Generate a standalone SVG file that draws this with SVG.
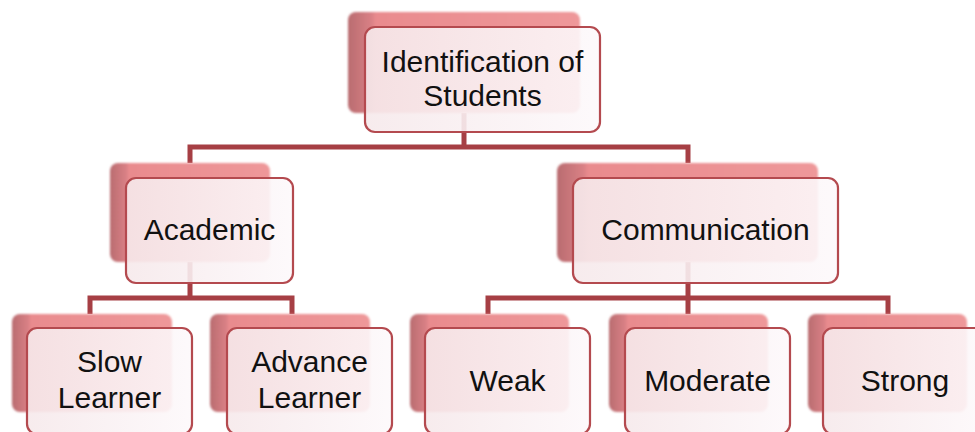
<svg xmlns="http://www.w3.org/2000/svg" width="975" height="432" viewBox="0 0 975 432">
<defs>
<linearGradient id="backG" x1="0" y1="0" x2="1" y2="0">
<stop offset="0" stop-color="#b96c70"/>
<stop offset="0.1" stop-color="#d98085"/>
<stop offset="0.12" stop-color="#e98b8e"/>
<stop offset="1" stop-color="#ee989a"/>
</linearGradient>
<linearGradient id="frontG" x1="0" y1="0" x2="1" y2="0">
<stop offset="0" stop-color="#f6e9eb"/>
<stop offset="1" stop-color="#fdf9fb"/>
</linearGradient>
<filter id="soft" x="-10%" y="-10%" width="120%" height="120%">
<feGaussianBlur stdDeviation="1.2"/>
</filter>
</defs>
<style>
.back{fill:url(#backG);filter:url(#soft);}
.front{fill:url(#frontG);fill-opacity:0.9;stroke:#b44a4f;stroke-width:2.2;}
.conn{fill:none;stroke:#a63f44;stroke-width:5;stroke-linejoin:miter;}
.lbl{font-family:"Liberation Sans",Arial,sans-serif;font-size:30px;fill:#111;text-anchor:middle;}
</style>
<rect width="975" height="432" fill="#ffffff"/>
<g id="connectors">
<path class="conn" d="M464,113 V147 M190,163 V147 H688 V163"/>
<path class="conn" d="M190,262 V298 M90,314 V298 H292 V314"/>
<path class="conn" d="M688,262 V314 M488,314 V298 H888 V314"/>
</g>
<g id="root">
<rect class="back" x="348" y="12" width="232" height="101" rx="8"/>
<rect class="front" x="365" y="27" width="235" height="105" rx="10"/>
<text class="lbl" x="482.5" y="72">Identification of</text>
<text class="lbl" x="482.5" y="106">Students</text>
</g>
<g id="academic">
<rect class="back" x="110" y="163" width="160" height="99" rx="8"/>
<rect class="front" x="126" y="178" width="167" height="105" rx="10"/>
<text class="lbl" x="209.5" y="240">Academic</text>
</g>
<g id="communication">
<rect class="back" x="557" y="163" width="261" height="99" rx="8"/>
<rect class="front" x="573" y="178" width="265" height="105" rx="10"/>
<text class="lbl" x="705.5" y="240">Communication</text>
</g>
<g id="slow">
<rect class="back" x="12" y="314" width="160" height="98" rx="8"/>
<rect class="front" x="27" y="328" width="165" height="106" rx="10"/>
<text class="lbl" x="109.5" y="372">Slow</text>
<text class="lbl" x="109.5" y="408">Learner</text>
</g>
<g id="advance">
<rect class="back" x="210" y="314" width="160" height="98" rx="8"/>
<rect class="front" x="227" y="328" width="165" height="106" rx="10"/>
<text class="lbl" x="309.5" y="372">Advance</text>
<text class="lbl" x="309.5" y="408">Learner</text>
</g>
<g id="weak">
<rect class="back" x="410" y="314" width="159" height="98" rx="8"/>
<rect class="front" x="425" y="328" width="165" height="106" rx="10"/>
<text class="lbl" x="507.5" y="391">Weak</text>
</g>
<g id="moderate">
<rect class="back" x="609" y="314" width="159" height="98" rx="8"/>
<rect class="front" x="625" y="328" width="165" height="106" rx="10"/>
<text class="lbl" x="707.5" y="391">Moderate</text>
</g>
<g id="strong">
<rect class="back" x="808" y="314" width="159" height="98" rx="8"/>
<rect class="front" x="823" y="328" width="165" height="106" rx="10"/>
<text class="lbl" x="905" y="391">Strong</text>
</g>
</svg>
